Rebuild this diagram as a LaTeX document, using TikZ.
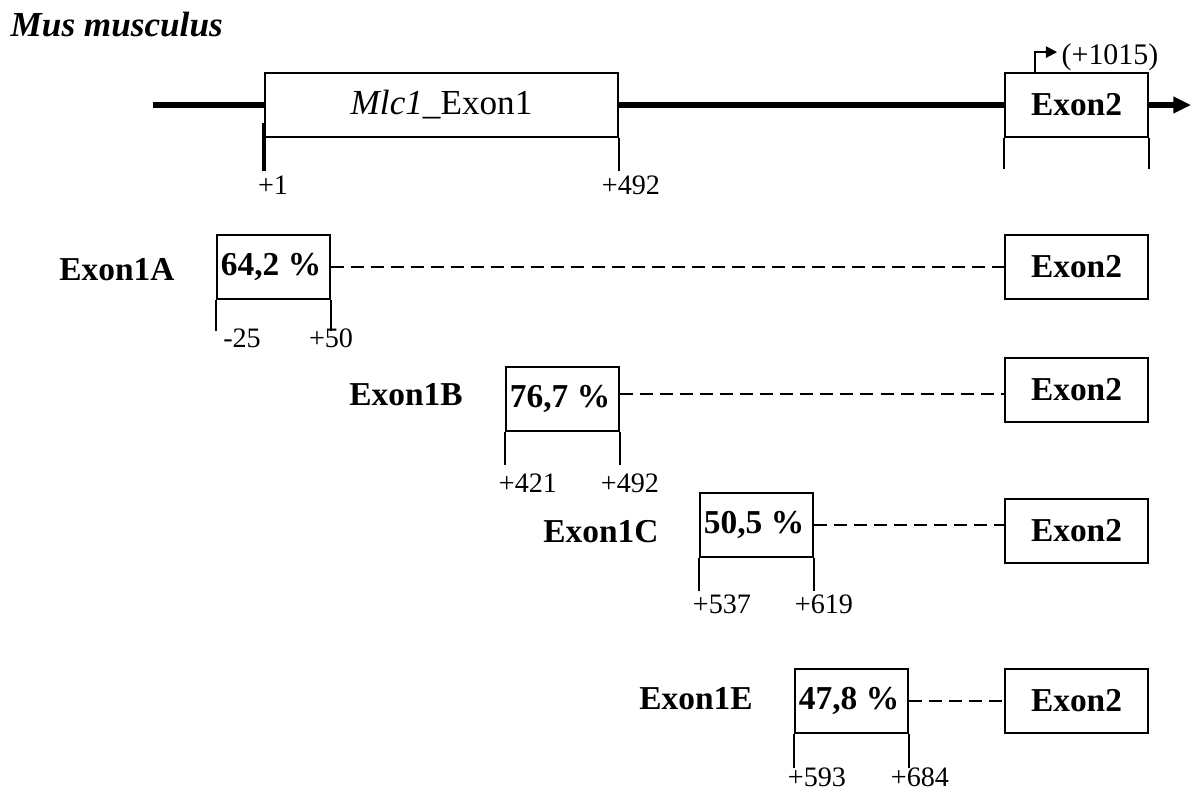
\documentclass[tikz,border=0pt]{standalone}
\usepackage{fontspec}
\setmainfont{Liberation Serif}
\usepackage{tikz}
\usetikzlibrary{
arrows.meta,
positioning,
calc
}

\newcommand{\exontwo}{Exon2\hspace{4.5pt}}
\newcommand{\pct}{\hspace{0.25em}\%}

\tikzset{
  exbox/.style={draw, line width=0.5pt, minimum height=0.64cm, inner sep=1pt, font=\fontsize{9.5}{11}\selectfont\bfseries},
  pctbox/.style={exbox, inner xsep=0.04cm, text width=1.05cm, align=left},
  rowlab/.style={font=\fontsize{9.5}{11}\selectfont\bfseries, inner sep=0pt},
  ticklab/.style={font=\fontsize{8}{9}\selectfont, inner sep=0pt},
  tickln/.style={line width=0.5pt},
  splice/.style={line width=0.45pt, dash pattern=on 3.7pt off 2pt}
}

\begin{document}
\begin{tikzpicture}[x=0.01cm, y=-0.01cm, >={Triangle[length=5pt, width=4.5pt]}]
\useasboundingbox (0,0) rectangle (1192,789);

% Species
\node[font=\fontsize{10}{12}\selectfont\bfseries\itshape, anchor=west, inner sep=0pt] (species) at (10,25) {Mus musculus};

% Genomic locus
\node[exbox, minimum width=3.53cm, font=\fontsize{10}{12}\selectfont] (mlc) at (441.5,105) {\textit{Mlc1}\_Exon1};
\node[exbox, minimum width=1.43cm] (ex2) at (1076.5,105) {\exontwo};
\coordinate (locstart) at (153,105);
\coordinate (locend) at (1191,105);
\draw[line width=1.5pt] (locstart) -- (mlc.west);
\draw[line width=1.5pt] (mlc.east) -- (ex2.west);
\draw[line width=1.5pt, ->] (ex2.east) -- (locend);

\draw[line width=0.9pt] ($(mlc.south west)+(0,-15)$) -- ++(0,48);
\draw[tickln] (mlc.south east) -- ++(0,33);
\draw[tickln] (ex2.south west) -- ++(0,31);
\draw[tickln] (ex2.south east) -- ++(0,31);
\node[ticklab] (mlcl) at (273,185) {+1};
\node[ticklab] (mlcr) at (631,185) {+492};

% Transcription start
\coordinate (tss) at ($(ex2.north west)+(31,0)$);
\draw[line width=0.6pt, -{Triangle[length=3.2pt, width=3.2pt]}] (tss) |- ++(22,-20);
\node[ticklab, font=\fontsize{8.5}{9}\selectfont, anchor=west] (tsslab) at (1061,57) {(+1015)};

% Exon1A
\node[rowlab] (rowa) at (117,270) {Exon1A};
\node[pctbox] (a1) at (273.5,267) {64,2\pct};
\node[exbox, minimum width=1.43cm] (a2) at (1076.5,267) {\exontwo};
\draw[splice] (a1.east) -- (a2.west);
\draw[tickln] (a1.south west) -- ++(0,31);
\draw[tickln] (a1.south east) -- ++(0,31);
\node[ticklab] (a1l) at (242,338) {-25};
\node[ticklab] (a1r) at (331,338) {+50};

% Exon1B
\node[rowlab] (rowb) at (406,395) {Exon1B};
\node[pctbox] (b1) at (562.5,399) {76,7\pct};
\node[exbox, minimum width=1.43cm] (b2) at (1076.5,390) {\exontwo};
\coordinate (bsplice) at ($(b1.east)+(0,-5)$);
\draw[splice] (bsplice) -- (bsplice -| b2.west);
\draw[tickln] (b1.south west) -- ++(0,33);
\draw[tickln] (b1.south east) -- ++(0,33);
\node[ticklab] (b1l) at (528,483) {+421};
\node[ticklab] (b1r) at (630,483) {+492};

% Exon1C
\node[rowlab] (rowc) at (601,532) {Exon1C};
\node[pctbox] (c1) at (756.5,525) {50,5\pct};
\node[exbox, minimum width=1.43cm] (c2) at (1076.5,531) {\exontwo};
\draw[splice] (c1.east) -- (c1.east -| c2.west);
\draw[tickln] (c1.south west) -- ++(0,33);
\draw[tickln] (c1.south east) -- ++(0,33);
\node[ticklab] (c1l) at (722,604) {+537};
\node[ticklab] (c1r) at (824,604) {+619};

% Exon1E
\node[rowlab] (rowe) at (696,699) {Exon1E};
\node[pctbox] (e1) at (851.5,701) {47,8\pct};
\node[exbox, minimum width=1.43cm] (e2) at (1076.5,701) {\exontwo};
\draw[splice] (e1.east) -- (e2.west);
\draw[tickln] (e1.south west) -- ++(0,34);
\draw[tickln] (e1.south east) -- ++(0,34);
\node[ticklab] (e1l) at (817,777) {+593};
\node[ticklab] (e1r) at (920,777) {+684};

\end{tikzpicture}
\end{document}
